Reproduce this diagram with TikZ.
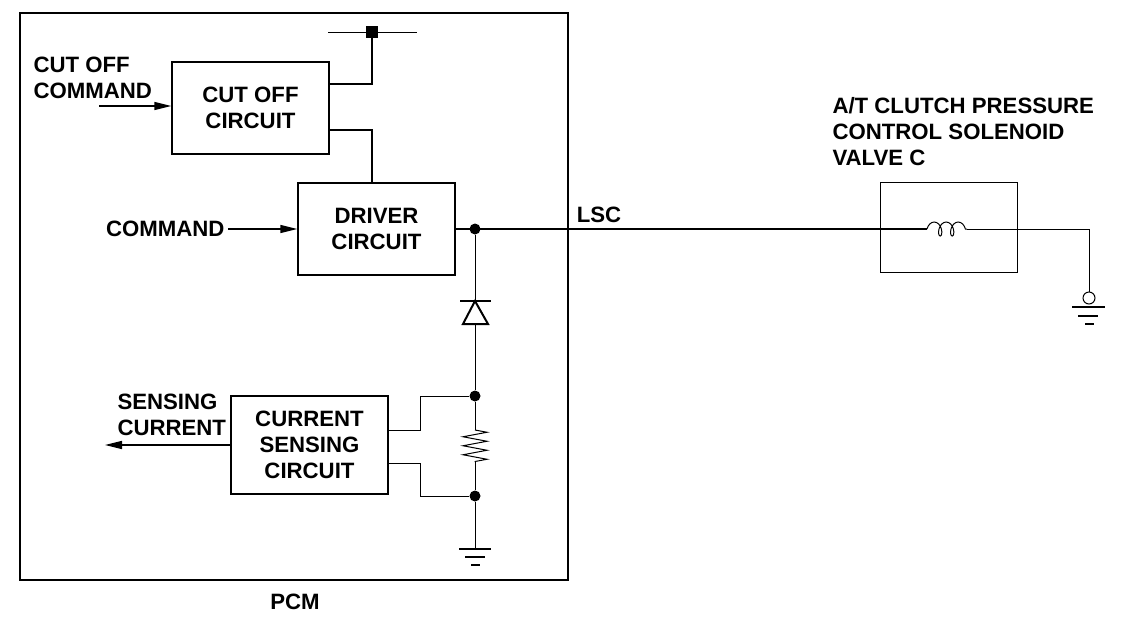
\documentclass[tikz,border=0pt]{standalone}
\usepackage{fontspec}
\setmainfont{Liberation Sans}
\usetikzlibrary{arrows.meta, positioning, calc, decorations.pathmorphing}

\begin{document}
\begin{tikzpicture}[x=1pt, y=-1pt,
        font={\bfseries\fontsize{22.2}{26}\selectfont},
        blockbox/.style={draw, line width=1.5pt, minimum width=157pt, align=center},
        wire/.style={line width=1pt},
        mainwire/.style={line width=2pt},
        sig/.style={line width=1.5pt, -{Triangle[length=17pt, width=8pt]}},
        jdot/.style={circle, fill, inner sep=0pt, minimum size=11pt},
        gndbar/.style={line width=2.5pt}]
        \useasboundingbox (0,0) rectangle (1136,630);

        % PCM housing
        \node[draw, line width=2pt, minimum width=548pt, minimum height=567pt] (pcm) at (294,296.5) {};
        \node (pcmlbl) at (295,602) {PCM};

        % blocks
        \node[blockbox, minimum height=92pt] (cutoff) at (250.5,108) {CUT OFF\\CIRCUIT};
        \node[blockbox, minimum height=92pt] (driver) at (376.5,229) {DRIVER\\CIRCUIT};
        \node[blockbox, minimum height=98pt] (csense) at (309.5,445) {CURRENT\\SENSING\\CIRCUIT};
        \node[draw, line width=1pt, minimum width=137pt, minimum height=90pt] (valve) at (948.5,227) {};

        % labels
        \node[align=left, anchor=west] (cutoffcmd) at (30,77.5) {CUT OFF\\COMMAND};
        \node[anchor=east] (cmd) at (228,229) {COMMAND};
        \node[align=left, anchor=west] (senscur) at (114,414.5) {SENSING\\CURRENT};
        \node (lsc) at (599,215) {LSC};
        \node[align=left, anchor=west] (valvelbl) at (829,132) {A/T CLUTCH PRESSURE\\CONTROL SOLENOID\\VALVE C};

        % supply tap
        \coordinate (busL) at (328,32);
        \coordinate (busR) at (417,32);
        \node[fill, inner sep=0pt, minimum size=12pt] (pwr) at (372,32) {};
        \draw[wire] (busL) -- (busR);
        \draw[line width=1.5pt] ([yshift=24pt]cutoff.east) -| (pwr);
        \draw[line width=1.5pt] ([yshift=-22pt]cutoff.east) -| (driver.north -| pwr);

        % inputs and output
        \coordinate (cocIn) at (99,106);
        \draw[sig] (cocIn) -- (cocIn -| cutoff.west);
        \draw[sig] (cmd.east) -- (driver.west);
        \coordinate (sensOut) at (105,448);
        \draw[sig] (csense.west) -- (csense.west -| sensOut);

        % LSC line and solenoid
        \node[jdot] (jlsc) at (475,229) {};
        \coordinate (coilL) at (927,229);
        \coordinate (coilR) at (967,229);
        \draw[mainwire] (driver.east) -- (jlsc.center) -- (coilL);
        \draw[wire, decorate, decoration={coil, amplitude=7pt, segment length=12pt, aspect=0.6}] (coilL) -- (coilR);
        \node[draw, circle, line width=1pt, inner sep=0pt, minimum size=12pt] (gcirc) at (1089,298) {};
        \draw[wire] (coilR) -| (gcirc);
        \draw[line width=1.5pt] (1072,307) -- (1105,307);
        \draw[line width=1.5pt] (1078,316) -- (1098,316);
        \draw[line width=1.5pt] (1085,324) -- (1094,324);

        % diode, shunt and ground
        \coordinate (diodeK) at (475,301);
        \coordinate (diodeA) at (475,324);
        \node[jdot] (senseA) at (475,396) {};
        \node[jdot] (senseB) at (475,496) {};
        \coordinate (resT) at (475,430);
        \coordinate (resB) at (475,462);
        \coordinate (gndL) at (475,549);
        \draw[wire] (jlsc) -- (diodeK);
        \draw[line width=2pt] ([xshift=-15pt]diodeK) -- ([xshift=16pt]diodeK);
        \draw[line width=2pt, line join=miter] (diodeK) -- ([xshift=-12pt]diodeA) -- ([xshift=13pt]diodeA) -- cycle;
        \draw[wire] (diodeA) -- (senseA) -- (resT);
        \draw[wire, decorate, decoration={zigzag, segment length=9pt, amplitude=12pt}] (resT) -- (resB);
        \draw[wire] (resB) -- (senseB) -- (gndL);
        \draw[gndbar] ([xshift=-16pt]gndL) -- ([xshift=16pt]gndL);
        \draw[gndbar] (465,557) -- (485,557);
        \draw[gndbar] (471,565) -- (480,565);

        % sense taps
        \coordinate (bendA) at (420,430);
        \coordinate (bendB) at (420,463);
        \draw[wire] (senseA) -| (bendA) -- (bendA -| csense.east);
        \draw[wire] (senseB) -| (bendB) -- (bendB -| csense.east);
    \end{tikzpicture}
\end{document}
